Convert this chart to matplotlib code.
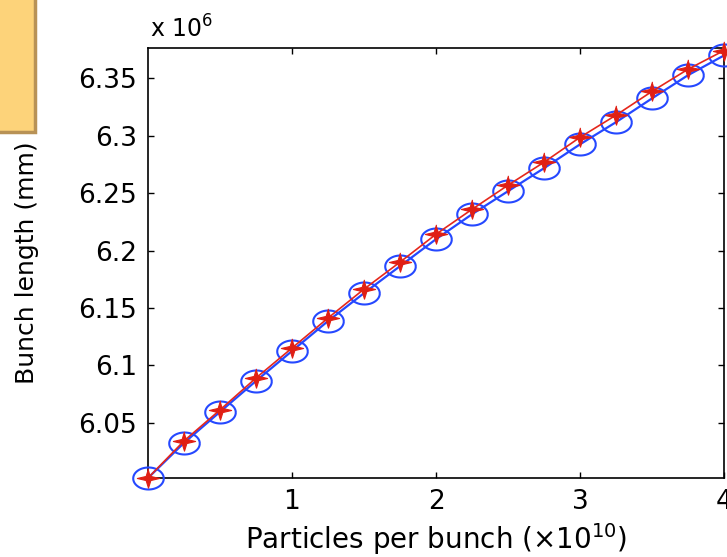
import numpy as np
import matplotlib
matplotlib.use("Agg")
import matplotlib.pyplot as plt
from matplotlib.path import Path
from matplotlib.patches import Rectangle

# particles per bunch (x1e10)
n_part = [0, 0.25, 0.5, 0.75, 1, 1.25, 1.5, 1.75, 2, 2.25, 2.5, 2.75, 3, 3.25, 3.5, 3.75, 4]
# bunch length (x1e6), red stars
len_red = [6.002, 6.0343, 6.0613, 6.0891, 6.1152, 6.1413, 6.1665, 6.190, 6.2143,
           6.236, 6.257, 6.277, 6.2987, 6.318, 6.3387, 6.358, 6.3743]
# bunch length (x1e6), blue circles
len_blue = [6.002, 6.0326, 6.0596, 6.0865, 6.1126, 6.1387, 6.163, 6.1865, 6.210,
            6.2317, 6.2518, 6.2718, 6.2926, 6.3119, 6.3326, 6.3528, 6.370]

yticks = [6.05, 6.1, 6.15, 6.2, 6.25, 6.3, 6.35]
ytick_labels = ['6.05', '6.1', '6.15', '6.2', '6.25', '6.3', '6.35']
xticks = [1, 2, 3, 4]

plt.rcParams['font.family'] = ['DejaVu Sans']

fig = plt.figure(figsize=(7.27, 5.57), dpi=100)
ax = fig.add_axes([148/727, 1 - 478/557, 576/727, 430/557])

# squashed open circle, like the stretched matlab markers
t = np.linspace(0, 2*np.pi, 60)
ell = Path(np.column_stack([np.cos(t), 0.72*np.sin(t)]))

# four-point sparkle for the red series
ang = np.linspace(np.pi/2, np.pi/2 + 2*np.pi, 9)[:-1]
rad = np.array([1, 0.3] * 4)
sparkle = Path(np.column_stack([1.15*rad*np.cos(ang), rad*np.sin(ang)]))

ax.plot(n_part, len_blue, color='#2548ff', lw=1.6, marker=ell, ms=22,
        mfc='none', mec='#2548ff', mew=1.5, clip_on=False, zorder=3)
ax.plot(n_part, len_red, color='#e5271c', lw=1.2, marker=sparkle, ms=16,
        mfc='#e01f14', mec='#e01f14', mew=0.8, clip_on=False, zorder=4)

ax.set_xlim(0, 4)
ax.set_ylim(6.002, 6.3765)
ax.set_xticks(xticks)
ax.set_xticklabels([str(v) for v in xticks])
ax.set_yticks(yticks)
ax.set_yticklabels(ytick_labels)
ax.tick_params(direction='in', length=4, width=1, top=True, right=True,
               labelsize=19, pad=8)
for s in ax.spines.values():
    s.set_linewidth(1.2)

ax.set_xlabel(r'Particles per bunch ($\times$10$^{10}$)', fontsize=20, labelpad=4)
ax.set_ylabel('Bunch length (mm)', fontsize=18, labelpad=28)
fig.text(150/727, 1 - 38/557, r'x 10$^6$', fontsize=17)

# orange box from the slide at top-left
fig.patches.append(Rectangle((-0.02, 1 - 132/557), 0.02 + 35/727, 0.3,
                             transform=fig.transFigure, facecolor='#fdd37a',
                             edgecolor='#b89256', lw=2.5, zorder=5))

fig.savefig('out.png', dpi=100)
